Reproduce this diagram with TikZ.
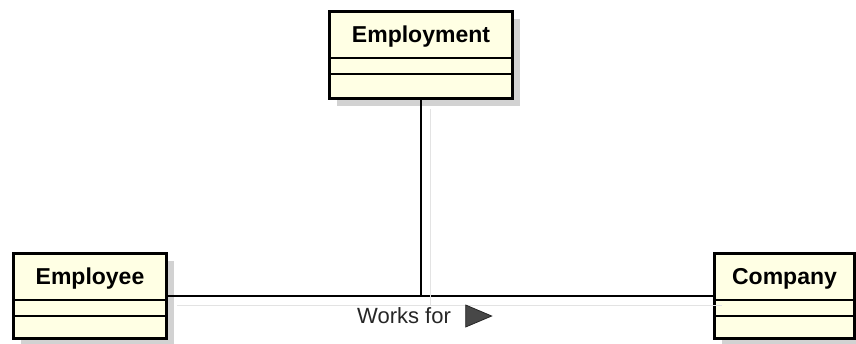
\documentclass[tikz,border=0pt]{standalone}
\usepackage{fontspec}
\setmainfont{Liberation Sans}
\usetikzlibrary{positioning,shadows,shapes.geometric}

\definecolor{clsfill}{RGB}{255,255,228}

\begin{document}
\begin{tikzpicture}[
  x=0.5pt,y=-0.5pt,
  cls/.style={draw,line width=1.5pt,fill=clsfill,inner sep=0pt,anchor=north west,
    drop shadow={shadow xshift=3.5pt,shadow yshift=-3.5pt,fill=gray!35,opacity=1}},
  ttl/.style={font=\fontsize{11.5}{13}\selectfont\bfseries,inner sep=0pt},
  sep/.style={line width=0.8pt},
  assoc/.style={line width=0.8pt,
    preaction={draw,gray!22,transform canvas={xshift=4.5pt,yshift=-4.5pt}}},
  lbl/.style={font=\fontsize{11}{13}\selectfont,text=black!85,inner sep=0pt}
]
  \useasboundingbox (0,0) rectangle (856,343);

  % classes
  \node[cls,minimum width=91.5pt,minimum height=43.5pt] (employment) at (328,10) {};
  \node[cls,minimum width=76.5pt,minimum height=42.5pt] (employee) at (12,252) {};
  \node[cls,minimum width=70pt,minimum height=42.5pt] (company) at (713,252) {};

  \foreach \c/\t in {employment/Employment,employee/Employee,company/Company}{
    \node[ttl] (\c name) at ([yshift=-13.5pt]\c.north) {\t};
    \draw[sep] ([yshift=-24pt]\c.north west) -- ([yshift=-24pt]\c.north east);
    \draw[sep] ([yshift=-32pt]\c.north west) -- ([yshift=-32pt]\c.north east);
  }

  % association and association class
  \coordinate (join) at (employment.south |- employee.east);
  \draw[assoc] (employee.east) -- (company.west);
  \draw[assoc] (employment.south) -- (join);

  \node[lbl] (worksfor) at (404,316) {Works for};
  \node[isosceles triangle,isosceles triangle stretches,draw=black!85,fill=black!72,
    minimum height=13pt,minimum width=11pt,inner sep=0pt,
    right=7pt of worksfor] (dir) {};
\end{tikzpicture}
\end{document}
